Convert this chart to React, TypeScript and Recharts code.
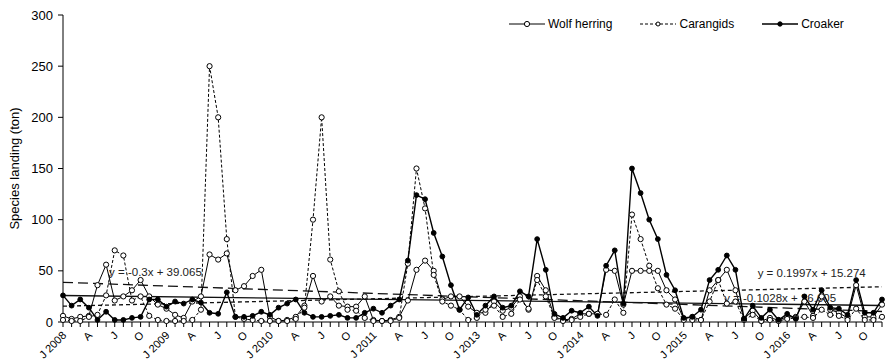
import React from 'react';
import { LineChart, Line, XAxis, YAxis, ReferenceLine, ReferenceDot, Legend } from 'recharts';

// Monthly landings, Jan 2008 - Dec 2016 (2012 not sampled), tons
const wolfHerring = [
  6, 3, 5, 6, 36, 56, 21, 25, 31, 41, 25, 17,
  13, 7, 4, 20, 25, 66, 61, 67, 31, 35, 45, 51,
  5, 1, 2, 5, 16, 45, 20, 25, 16, 15, 15, 25,
  2, 1, 2, 5, 21, 51, 60, 50, 22, 25, 25, 15,
  9, 9, 20, 11, 14, 25, 12, 45, 31, 5, 2, 3,
  8, 8, 8, 51, 50, 17, 50, 50, 50, 50, 31, 22,
  3, 5, 2, 31, 41, 51, 31, 3, 11, 1, 4, 2,
  5, 5, 20, 6, 25, 12, 9, 4, 36, 5, 5, 17,
];

const carangids = [
  2, 1, 1, 5, 7, 26, 70, 65, 21, 25, 6, 2,
  1, 1, 1, 2, 12, 250, 200, 81, 5, 3, 2, 1,
  1, 1, 1, 3, 14, 100, 200, 61, 30, 12, 11, 4,
  1, 1, 1, 4, 57, 150, 111, 46, 20, 16, 12, 2,
  4, 12, 16, 5, 8, 22, 13, 41, 25, 4, 1, 2,
  5, 8, 8, 7, 22, 9, 105, 81, 55, 33, 17, 13,
  2, 2, 2, 20, 41, 18, 20, 2, 7, 1, 2, 1,
  3, 4, 5, 4, 12, 7, 6, 2, 13, 2, 2, 5,
];

const croaker = [
  26, 16, 22, 14, 2, 10, 2, 2, 4, 5, 22, 22,
  15, 20, 18, 22, 19, 9, 8, 29, 5, 5, 6, 10,
  7, 14, 18, 22, 9, 5, 5, 6, 7, 4, 4, 9,
  13, 9, 16, 22, 60, 124, 120, 87, 64, 36, 12, 24,
  7, 16, 25, 14, 16, 30, 25, 81, 51, 8, 4, 11,
  9, 15, 6, 55, 70, 18, 150, 126, 100, 81, 46, 31,
  4, 5, 12, 41, 51, 65, 51, 3, 16, 4, 12, 2,
  8, 3, 25, 12, 31, 14, 13, 7, 41, 9, 9, 22,
];

// one label every third month
const xTickLabels = [
  'J 2008', 'A', 'J', 'O', 'J 2009', 'A', 'J', 'O',
  'J 2010', 'A', 'J', 'O', 'J 2011', 'A', 'J', 'O',
  'J 2013', 'A', 'J', 'O', 'J 2014', 'A', 'J', 'O',
  'J 2015', 'A', 'J', 'O', 'J 2016', 'A', 'J', 'O',
];

const yTicks = [0, 50, 100, 150, 200, 250, 300];

// linear trends printed on the chart
const trendSlopes = [-0.3, 0.1997, -0.1028];
const trendIntercepts = [39.065, 15.274, 26.005];
const trendLabels = ['y = -0.3x + 39.065', 'y = 0.1997x + 15.274', 'y = -0.1028x + 26.005'];

const data = wolfHerring.map((v, i) => ({
  idx: i,
  wolf: v,
  carangids: carangids[i],
  croaker: croaker[i],
}));

const trendDash = ['10 5', '4 3', undefined];
// where each equation sits: [month index, y value, dx]
const trendLabelSpots = [
  [5, 45, 3],
  [80, 44, 5],
  [76, 19.5, 6],
];

const FONT = '"Liberation Sans", Arial, sans-serif';

const MonthTick = (props: any) => {
  const { x, y, payload } = props;
  const i = payload.value;
  if (i % 3 !== 0) return <g />;
  const tx = x + 4;
  const ty = y + 7;
  return (
    <text
      x={tx}
      y={ty}
      transform={`rotate(-45 ${tx} ${ty})`}
      textAnchor="end"
      fontSize={11}
      fill="#000"
    >
      {xTickLabels[i / 3]}
    </text>
  );
};

const LegendIcon = ({ dashed, filled, r }: { dashed?: boolean; filled?: boolean; r: number }) => (
  <svg width={36} height={10} style={{ display: 'block' }}>
    <line x1={0} y1={5} x2={36} y2={5} stroke="#000" strokeWidth={filled ? 1.3 : 1} strokeDasharray={dashed ? '3 2' : undefined} />
    <circle cx={18} cy={5} r={r} fill={filled ? '#000' : '#fff'} stroke="#000" strokeWidth={1} />
  </svg>
);

const ChartLegend = () => {
  const items = [
    { name: 'Wolf herring', icon: <LegendIcon r={2.6} /> },
    { name: 'Carangids', icon: <LegendIcon dashed r={2} /> },
    { name: 'Croaker', icon: <LegendIcon filled r={2.2} /> },
  ];
  return (
    <div style={{ display: 'flex', alignItems: 'center', fontFamily: FONT, fontSize: 12, color: '#000' }}>
      {items.map((it, k) => (
        <div key={it.name} style={{ display: 'flex', alignItems: 'center', marginLeft: k === 0 ? 0 : 28 }}>
          {it.icon}
          <span style={{ marginLeft: 3, whiteSpace: 'nowrap' }}>{it.name}</span>
        </div>
      ))}
    </div>
  );
};

const YLabel = (props: any) => {
  const { viewBox } = props;
  const cx = 14;
  const cy = viewBox.y + viewBox.height / 2;
  return (
    <text
      x={cx}
      y={cy}
      transform={`rotate(-90 ${cx} ${cy})`}
      textAnchor="middle"
      dominantBaseline="central"
      fontSize={13}
      fill="#000"
    >
      Species landing (ton)
    </text>
  );
};

export default function App() {
  const n = data.length;
  return (
    <div style={{ position: 'absolute', left: 0, top: 0, width: 885, height: 360, background: '#fff', fontFamily: FONT }}>
      <LineChart width={885} height={360} data={data} margin={{ top: 15, right: 3, left: 0, bottom: 0 }}>
        <XAxis
          dataKey="idx"
          type="category"
          interval={0}
          height={38}
          tick={<MonthTick />}
          tickSize={5}
          tickMargin={2}
          axisLine={{ stroke: '#000' }}
          tickLine={{ stroke: '#000' }}
        />
        <YAxis
          width={63}
          domain={[0, 300]}
          ticks={yTicks}
          interval={0}
          tickSize={5}
          tickMargin={5}
          axisLine={{ stroke: '#000' }}
          tickLine={{ stroke: '#000' }}
          tick={{ fill: '#000', fontSize: 13 }}
          label={<YLabel />}
        />
        <Legend
          layout="vertical"
          align="center"
          verticalAlign="middle"
          content={<ChartLegend />}
          wrapperStyle={{ left: 509, top: 17, width: 360 }}
        />
        {trendSlopes.map((s, k) => (
          <ReferenceLine
            key={`trend-${k}`}
            segment={[
              { x: 0, y: trendIntercepts[k] + s * 1 },
              { x: n - 1, y: trendIntercepts[k] + s * n },
            ]}
            stroke="#111"
            strokeWidth={1.3}
            strokeDasharray={trendDash[k]}
          />
        ))}
        {trendLabels.map((t, k) => (
          <ReferenceDot
            key={`tl-${k}`}
            x={trendLabelSpots[k][0]}
            y={trendLabelSpots[k][1]}
            r={0}
            shape={(p: any) => (
              <text x={p.cx + trendLabelSpots[k][2]} y={p.cy} fontSize={11.5} fill="#222" fontFamily={FONT}>
                {t}
              </text>
            )}
          />
        ))}
        <Line
          dataKey="wolf"
          name="Wolf herring"
          stroke="#000"
          strokeWidth={1}
          dot={{ r: 2.6, fill: '#fff', stroke: '#000', strokeWidth: 1 }}
          activeDot={false}
          isAnimationActive={false}
        />
        <Line
          dataKey="carangids"
          name="Carangids"
          stroke="#000"
          strokeWidth={1}
          strokeDasharray="3 2"
          dot={{ r: 2.6, fill: '#fff', stroke: '#000', strokeWidth: 1, strokeDasharray: '' }}
          activeDot={false}
          isAnimationActive={false}
        />
        <Line
          dataKey="croaker"
          name="Croaker"
          stroke="#000"
          strokeWidth={1.4}
          dot={{ r: 2.4, fill: '#000', stroke: '#000', strokeWidth: 1 }}
          activeDot={false}
          isAnimationActive={false}
        />
      </LineChart>
    </div>
  );
}
